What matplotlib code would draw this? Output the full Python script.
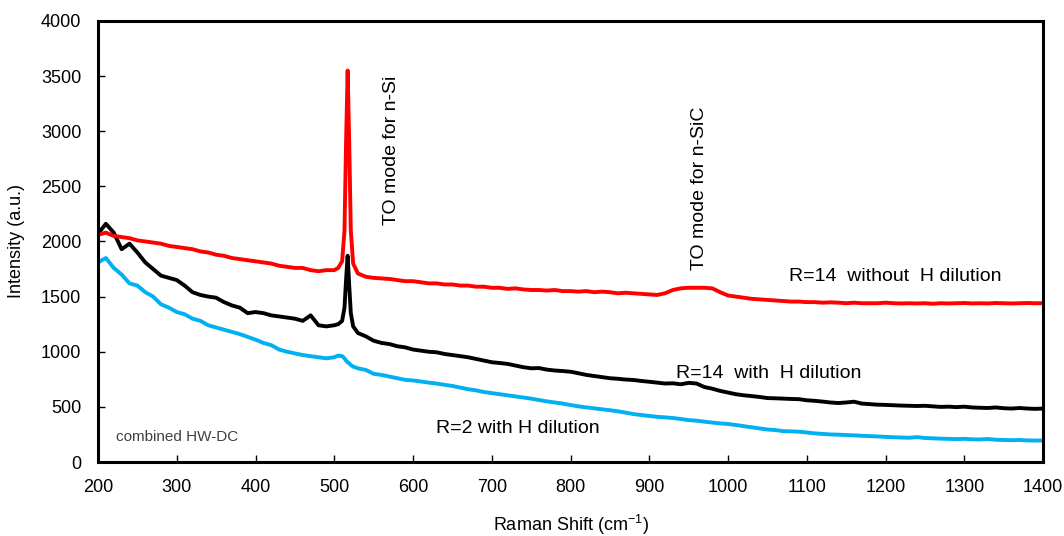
import matplotlib.pyplot as plt

plt.rcParams['font.family'] = ['Liberation Sans', 'DejaVu Sans']

# Raman shift (cm-1): every 10 cm-1, finer around the n-Si peak
shift = list(range(200, 501, 10)) + [505, 510, 513, 515, 517, 519, 521, 524, 530] + list(range(540, 1401, 10))

red_base = [2060, 2080, 2050, 2040, 2030, 2010, 2000, 1990, 1980, 1960,
            1950, 1940, 1930, 1910, 1900, 1880, 1870, 1850, 1840, 1830,
            1820, 1810, 1800, 1780, 1770, 1760, 1760, 1740, 1730, 1740, 1740]
red_peak = [1760, 1820, 2100, 2900, 3550, 2900, 2100, 1800, 1710]
red_tail = [1680, 1670, 1665, 1660, 1650, 1640, 1640, 1630, 1620, 1620,
            1610, 1610, 1600, 1600, 1590, 1590, 1580, 1580, 1570, 1575,
            1565, 1560, 1560, 1555, 1560, 1550, 1550, 1545, 1550, 1540,
            1545, 1540, 1530, 1535, 1530, 1525, 1520, 1515, 1530, 1560,
            1575, 1580, 1580, 1580, 1575, 1540, 1510, 1500, 1490, 1480,
            1475, 1470, 1465, 1460, 1455, 1455, 1450, 1450, 1445, 1448,
            1445, 1440, 1445, 1440, 1440, 1440, 1445, 1440, 1438, 1440,
            1438, 1440, 1435, 1440, 1438, 1440, 1442, 1438, 1440, 1438,
            1442, 1440, 1438, 1440, 1442, 1440, 1440]
red = red_base + red_peak + red_tail

black_base = [2070, 2160, 2080, 1930, 1980, 1900, 1810, 1750, 1690, 1670,
              1650, 1600, 1540, 1515, 1500, 1490, 1450, 1420, 1400, 1350,
              1360, 1350, 1330, 1320, 1310, 1300, 1280, 1330, 1240, 1230, 1240]
black_peak = [1250, 1280, 1400, 1650, 1870, 1600, 1350, 1230, 1170]
black_tail = [1140, 1100, 1080, 1070, 1050, 1040, 1020, 1010, 1000, 995,
              980, 970, 960, 950, 935, 920, 905, 898, 890, 875,
              860, 850, 852, 838, 830, 825, 819, 805, 790, 780,
              770, 760, 755, 748, 744, 735, 728, 720, 712, 714,
              705, 718, 712, 680, 665, 645, 630, 615, 605, 598,
              590, 580, 578, 575, 572, 570, 560, 555, 548, 540,
              535, 540, 547, 530, 525, 520, 518, 515, 512, 510,
              508, 510, 505, 500, 502, 498, 502, 495, 492, 490,
              495, 488, 485, 490, 485, 482, 485]
black = black_base + black_peak + black_tail

blue_base = [1810, 1850, 1760, 1700, 1620, 1600, 1540, 1500, 1430, 1400,
             1360, 1340, 1300, 1280, 1240, 1220, 1200, 1180, 1160, 1135,
             1110, 1080, 1060, 1020, 1000, 985, 970, 960, 950, 940, 950]
blue_peak = [965, 960, 940, 920, 905, 895, 880, 865, 850]
blue_tail = [835, 800, 790, 775, 760, 745, 740, 730, 720, 712,
             700, 690, 675, 660, 650, 635, 625, 615, 605, 595,
             585, 575, 562, 550, 540, 530, 517, 505, 495, 487,
             478, 470, 460, 448, 435, 426, 418, 410, 405, 399,
             390, 380, 375, 366, 358, 350, 345, 336, 325, 315,
             305, 295, 290, 280, 278, 275, 268, 260, 255, 250,
             248, 245, 242, 238, 235, 232, 228, 225, 222, 220,
             226, 218, 215, 212, 210, 208, 210, 206, 205, 209,
             202, 200, 198, 200, 196, 195, 195]
blue = blue_base + blue_peak + blue_tail

fig = plt.figure(figsize=(10.64, 5.36), dpi=100)
ax = fig.add_axes([0.0921, 0.138, 0.8882, 0.823])

ax.plot(shift, blue, color='#00B0F0', lw=2.8)
ax.plot(shift, black, color='black', lw=2.8)
ax.plot(shift, red, color='#FF0000', lw=2.8)

ax.set_xlim(200, 1400)
ax.set_ylim(0, 4000)
ax.set_xticks(range(200, 1401, 100))
ax.set_yticks(range(0, 4001, 500))
ax.tick_params(direction='in', length=5, width=1, labelsize=13, pad=12)
for s in ax.spines.values():
    s.set_linewidth(2.2)

ax.set_xlabel('Raman Shift (cm$\\mathregular{^{-1}}$)', fontsize=13, va='baseline')
ax.set_ylabel('Intensity (a.u.)', fontsize=13)
ax.xaxis.set_label_coords(0.5, -0.1565)
ax.yaxis.set_label_coords(-0.077, 0.5)

ax.text(573, 2830, 'TO mode for n-Si', rotation=90, fontsize=14, ha='center', va='center')
ax.text(964, 2485, 'TO mode for n-SiC', rotation=90, fontsize=14, ha='center', va='center')
ax.text(1212, 1678, 'R=14  without  H dilution', fontsize=14, ha='center', va='center')
ax.text(1052, 807, 'R=14  with  H dilution', fontsize=14, ha='center', va='center')
ax.text(733, 308, 'R=2 with H dilution', fontsize=14, ha='center', va='center')
ax.text(223, 227, 'combined HW-DC', fontsize=11, color='#404040', ha='left', va='center')

fig.savefig('out.png', dpi=100)
